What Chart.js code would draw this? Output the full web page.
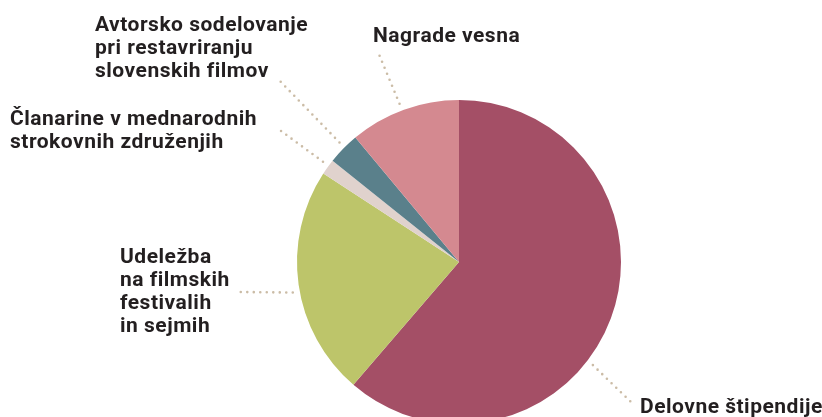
<!DOCTYPE html>
<html>
<head>
<meta charset="utf-8">
<script src="https://cdn.jsdelivr.net/npm/chart.js@4"></script>
<style>
  body { margin: 0; background: #fff; }
  #wrap { width: 822px; height: 417px; overflow: hidden; position: relative; }
</style>
</head>
<body>
<div id="wrap"><canvas id="pie" width="822" height="440"></canvas></div>
<script>
// slice data, clockwise from 12 o'clock
const categories = ['Delovne štipendije', 'Udeležba na filmskih festivalih in sejmih', 'Članarine v mednarodnih strokovnih združenjih', 'Avtorsko sodelovanje pri restavriranju slovenskih filmov', 'Nagrade vesna'];
const shares = [61.3, 22.9, 1.55, 3.2, 11.05];
const sliceColors = ['#A44F66', '#BDC56A', '#E0D2CD', '#5A808B', '#D48990'];

// label text as it is broken into lines
const labelLines = [
    ['Delovne štipendije'],
    ['Udeležba', 'na filmskih', 'festivalih', 'in sejmih'],
    ['Članarine v mednarodnih', 'strokovnih združenjih'],
    ['Avtorsko sodelovanje', 'pri restavriranju', 'slovenskih filmov'],
    ['Nagrade vesna']
];

// label placement: text x, first baseline, leader angle (deg from top), leader end
const labelLayout = [
    { x: 640, y: 413, angle: 127.6, end: [631, 402] },
    { x: 120, y: 263, angle: 259.6, end: [238, 292] },
    { x: 10, y: 125, angle: 306.4, end: [277, 128] },
    { x: 95, y: 31, angle: 315, end: [277, 78] },
    { x: 373, y: 42, angle: 339.4, end: [378, 52] }
];

const labelPlugin = {
    id: 'sliceLabels',
    afterDraw(chart) {
        const ctx = chart.ctx;
        const arcs = chart.getDatasetMeta(0).data;
        ctx.save();
        labelLayout.forEach((l, i) => {
            const arc = arcs[i];
            const a = l.angle * Math.PI / 180;
            const r = arc.outerRadius + 7;
            const sx = arc.x + r * Math.sin(a);
            const sy = arc.y - r * Math.cos(a);

            // dotted leader
            ctx.beginPath();
            ctx.strokeStyle = '#CBBCA6';
            ctx.lineWidth = 2.6;
            ctx.lineCap = 'round';
            ctx.setLineDash([0, 6.5]);
            ctx.moveTo(sx, sy);
            ctx.lineTo(l.end[0], l.end[1]);
            ctx.stroke();

            // text
            ctx.setLineDash([]);
            ctx.fillStyle = '#231F20';
            ctx.font = '700 21px Roboto';
            ctx.letterSpacing = '0.5px';
            ctx.textBaseline = 'alphabetic';
            ctx.textAlign = 'left';
            labelLines[i].forEach((line, j) => {
                ctx.fillText(line, l.x, l.y + j * 23);
            });
        });
        ctx.restore();
    }
};

new Chart(document.getElementById('pie'), {
    type: 'pie',
    data: {
        labels: categories,
        datasets: [{
            data: shares,
            backgroundColor: sliceColors,
            borderWidth: 0
        }]
    },
    options: {
        responsive: false,
        animation: false,
        layout: { padding: { top: 100, bottom: 16, left: 297, right: 201 } },
        plugins: {
            legend: { display: false },
            tooltip: { enabled: false }
        }
    },
    plugins: [labelPlugin]
});
</script>
</body>
</html>
